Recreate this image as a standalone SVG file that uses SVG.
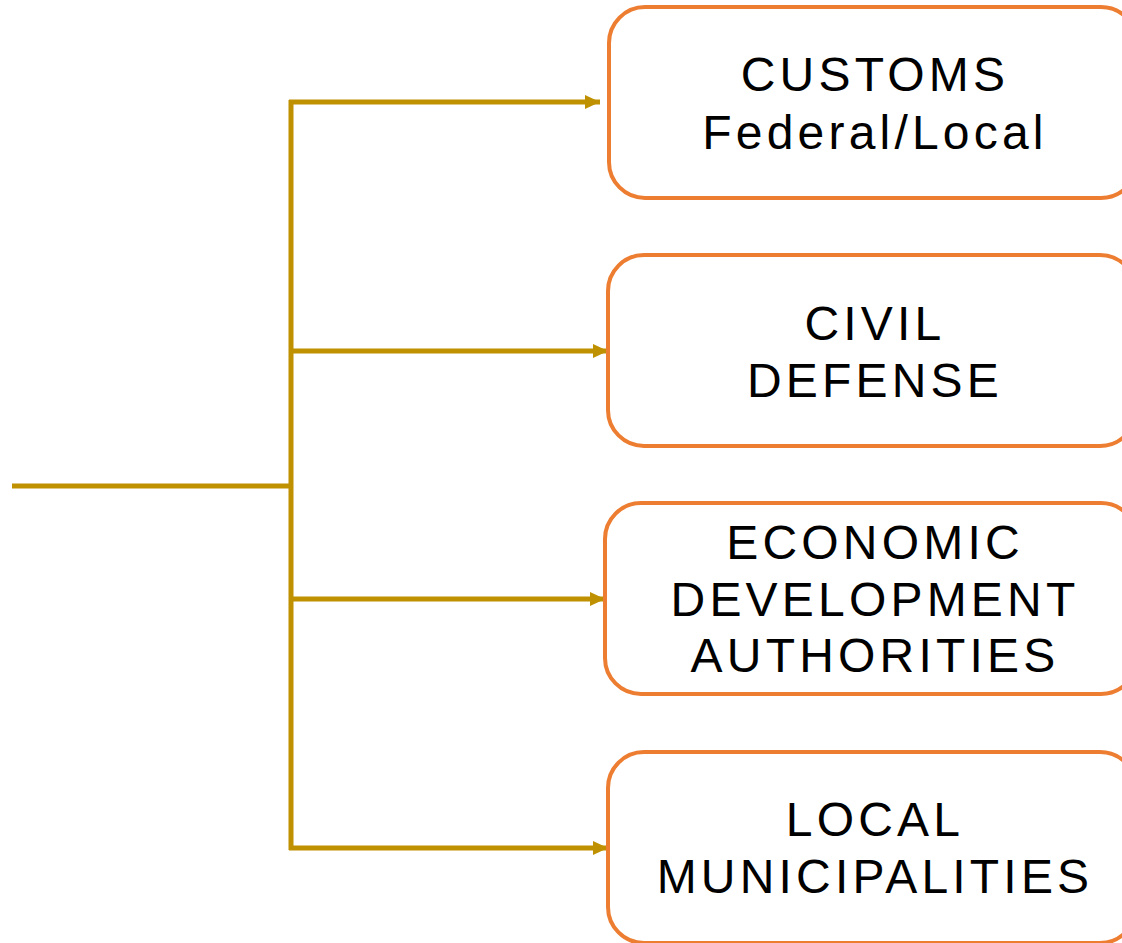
<svg xmlns="http://www.w3.org/2000/svg" width="1122" height="943" viewBox="0 0 1122 943">
<defs>
<marker id="arr" markerWidth="4" markerHeight="4" refX="3" refY="2" orient="auto" markerUnits="strokeWidth">
<path d="M0,0.6 L3,2 L0,3.4 Z" fill="#BF9000"/>
</marker>
<style>
.box{fill:#fff;stroke:#ED7D31;stroke-width:4}
.lbl{font-family:"Liberation Sans",Arial,sans-serif;font-size:48px;letter-spacing:4.2px;fill:#000;text-anchor:middle}
.con{fill:none;stroke:#BF9000;stroke-width:5}
</style>
</defs>
<rect width="1122" height="943" fill="#fff"/>
<g id="connectors">
<line class="con" x1="12" y1="486" x2="293" y2="486"/>
<line class="con" x1="291" y1="100" x2="291" y2="850"/>
<line class="con" x1="289" y1="102" x2="600" y2="102" marker-end="url(#arr)"/>
<line class="con" x1="289" y1="351" x2="608" y2="351" marker-end="url(#arr)"/>
<line class="con" x1="289" y1="599" x2="605" y2="599" marker-end="url(#arr)"/>
<line class="con" x1="289" y1="848" x2="608" y2="848" marker-end="url(#arr)"/>
</g>
<g id="customs">
<rect class="box" x="609" y="7" width="528" height="191" rx="36"/>
<text class="lbl" x="875" y="91">CUSTOMS</text>
<text class="lbl" x="875" y="149">Federal/Local</text>
</g>
<g id="civil-defense">
<rect class="box" x="608" y="255" width="528" height="191" rx="36"/>
<text class="lbl" x="875" y="340">CIVIL</text>
<text class="lbl" x="875" y="397">DEFENSE</text>
</g>
<g id="economic">
<rect class="box" x="605" y="503" width="532" height="191" rx="36"/>
<text class="lbl" x="875" y="559">ECONOMIC</text>
<text class="lbl" x="875" y="616">DEVELOPMENT</text>
<text class="lbl" x="875" y="672">AUTHORITIES</text>
</g>
<g id="municipalities">
<rect class="box" x="608" y="752" width="528" height="191" rx="36"/>
<text class="lbl" x="875" y="836">LOCAL</text>
<text class="lbl" x="875" y="893">MUNICIPALITIES</text>
</g>
</svg>
